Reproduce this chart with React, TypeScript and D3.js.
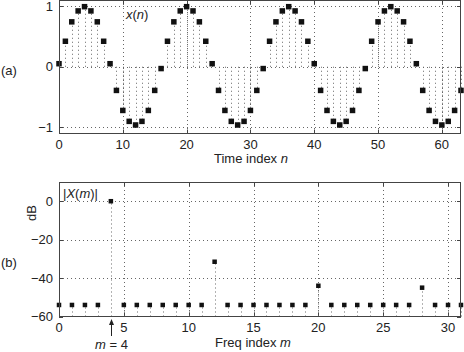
import React, { Component } from "react";
import * as d3 from "d3";

// x(n), n = 0..63
const signal = [
  0.05, 0.42, 0.74, 0.92, 0.99, 0.92, 0.74, 0.42,
  0.05, -0.39, -0.72, -0.9, -0.96, -0.9, -0.72, -0.39,
  -0.03, 0.42, 0.74, 0.92, 0.99, 0.92, 0.74, 0.42,
  0.05, -0.39, -0.72, -0.9, -0.96, -0.9, -0.72, -0.39,
  -0.03, 0.42, 0.74, 0.92, 0.99, 0.92, 0.74, 0.42,
  0.05, -0.39, -0.72, -0.9, -0.96, -0.9, -0.72, -0.39,
  -0.03, 0.42, 0.74, 0.92, 0.99, 0.92, 0.74, 0.42,
  0.05, -0.39, -0.72, -0.9, -0.96, -0.9, -0.72, -0.39,
];
// |X(m)| in dB, m = 0..31
const spectrum = [
  -54, -54, -54, -54, 0, -54, -54, -54,
  -54, -54, -54, -54, -31.5, -54, -54, -54,
  -54, -54, -54, -54, -44, -54, -54, -54,
  -54, -54, -54, -54, -45, -54, -54, -54,
];
const timeTicks = [0, 10, 20, 30, 40, 50, 60];
const ampTicks = [-1, 0, 1];
const freqTicks = [0, 5, 10, 15, 20, 25, 30];
const dbTicks = [-60, -40, -20, 0];
const peakBin = 4;

const FONT = "'Liberation Sans', Arial, Helvetica, sans-serif";
const INK = "#222";

export default class App extends Component {
  chartRef: any;

  componentDidMount() {
    const svg = d3.select(this.chartRef);
    svg.selectAll("*").remove();

    const left = 59;
    const right = 461;

    // 画一个面板：网格、刻度
    const panel = (
      x: any,
      y: any,
      xTicks: number[],
      yTicks: number[],
      xGrid: number[],
      yGrid: number[]
    ) => {
      const [y0, y1] = [y.range()[0], y.range()[1]];
      const g = svg.append("g");
      g.selectAll(".vg")
        .data(xGrid)
        .enter()
        .append("line")
        .attr("x1", (d) => Math.round(x(d)) + 0.5)
        .attr("x2", (d) => Math.round(x(d)) + 0.5)
        .attr("y1", y1)
        .attr("y2", y0)
        .attr("stroke", "#666")
        .attr("stroke-dasharray", "1,3");
      g.selectAll(".hg")
        .data(yGrid)
        .enter()
        .append("line")
        .attr("x1", left)
        .attr("x2", right)
        .attr("y1", (d) => Math.round(y(d)) + 0.5)
        .attr("y2", (d) => Math.round(y(d)) + 0.5)
        .attr("stroke", "#666")
        .attr("stroke-dasharray", "1,3");
      // 刻度线（四边向内）
      xTicks.forEach((t) => {
        const px = Math.round(x(t)) + 0.5;
        g.append("line").attr("x1", px).attr("x2", px).attr("y1", y0).attr("y2", y0 - 4).attr("stroke", "#444");
        g.append("line").attr("x1", px).attr("x2", px).attr("y1", y1).attr("y2", y1 + 4).attr("stroke", "#444");
      });
      yTicks.forEach((t) => {
        const py = Math.round(y(t)) + 0.5;
        g.append("line").attr("x1", left).attr("x2", left + 4).attr("y1", py).attr("y2", py).attr("stroke", "#444");
        g.append("line").attr("x1", right).attr("x2", right - 4).attr("y1", py).attr("y2", py).attr("stroke", "#444");
      });
      // 刻度文字
      g.selectAll(".xt")
        .data(xTicks)
        .enter()
        .append("text")
        .attr("x", (d) => x(d))
        .attr("y", y0 + 15)
        .attr("text-anchor", "middle")
        .attr("font-size", 13)
        .attr("font-family", FONT)
        .attr("fill", INK)
        .text((d) => String(d));
      g.selectAll(".yt")
        .data(yTicks)
        .enter()
        .append("text")
        .attr("x", 53)
        .attr("y", (d) => y(d) + 4.5)
        .attr("text-anchor", "end")
        .attr("font-size", 13)
        .attr("font-family", FONT)
        .attr("fill", INK)
        .text((d) => (d < 0 ? "\u2212" + Math.abs(d) : String(d)));
      return g;
    };

    // (a) 时域
    const xa = d3.scaleLinear().domain([0, 63]).range([left, right]);
    const ya = d3.scaleLinear().domain([-1.1, 1.1]).range([133.5, 0]);
    const ga = panel(xa, ya, timeTicks, ampTicks, timeTicks.slice(1), ampTicks);

    ga.selectAll(".stem")
      .data(signal)
      .enter()
      .append("line")
      .attr("x1", (d, i) => Math.round(xa(i)) + 0.5)
      .attr("x2", (d, i) => Math.round(xa(i)) + 0.5)
      .attr("y1", ya(0))
      .attr("y2", (d) => ya(d))
      .attr("stroke", "#666")
      .attr("stroke-dasharray", "1,3");
    ga.selectAll(".pt")
      .data(signal)
      .enter()
      .append("rect")
      .attr("x", (d, i) => xa(i) - 2.75)
      .attr("y", (d) => ya(d) - 2.75)
      .attr("width", 5.5)
      .attr("height", 5.5)
      .attr("fill", "#111");
    ga.append("rect")
      .attr("x", left + 0.5)
      .attr("y", 0.5)
      .attr("width", right - left - 1)
      .attr("height", 133)
      .attr("fill", "none")
      .attr("stroke", "#444");

    // (b) 频域
    const xb = d3.scaleLinear().domain([0, 31]).range([left, right]);
    const yb = d3.scaleLinear().domain([-60, 10]).range([316.5, 182]);
    const gb = panel(xb, yb, freqTicks, dbTicks, freqTicks.slice(1), dbTicks.slice(1));

    gb.selectAll(".stem")
      .data(spectrum)
      .enter()
      .append("line")
      .attr("x1", (d, i) => Math.round(xb(i)) + 0.5)
      .attr("x2", (d, i) => Math.round(xb(i)) + 0.5)
      .attr("y1", yb(-60))
      .attr("y2", (d) => yb(d))
      .attr("stroke", "#666")
      .attr("stroke-dasharray", "1,3");
    gb.selectAll(".pt")
      .data(spectrum)
      .enter()
      .append("rect")
      .attr("x", (d, i) => xb(i) - 2.25)
      .attr("y", (d) => yb(d) - 2.25)
      .attr("width", 4.5)
      .attr("height", 4.5)
      .attr("fill", "#111");
    gb.append("rect")
      .attr("x", left + 0.5)
      .attr("y", 182.5)
      .attr("width", right - left - 1)
      .attr("height", 134)
      .attr("fill", "none")
      .attr("stroke", "#444");

    // 文字标注
    const label = (x: number, y: number, size = 13, anchor = "start") =>
      svg
        .append("text")
        .attr("x", x)
        .attr("y", y)
        .attr("font-size", size)
        .attr("font-family", FONT)
        .attr("fill", INK)
        .attr("text-anchor", anchor);

    label(1, 75).text("(a)");
    label(1, 267).text("(b)");

    const xn = label(126, 19);
    xn.append("tspan").attr("font-style", "italic").text("x");
    xn.append("tspan").text("(");
    xn.append("tspan").attr("font-style", "italic").text("n");
    xn.append("tspan").text(")");

    const xm = label(63, 198);
    xm.append("tspan").text("|");
    xm.append("tspan").attr("font-style", "italic").text("X");
    xm.append("tspan").text("(");
    xm.append("tspan").attr("font-style", "italic").text("m");
    xm.append("tspan").text(")|");

    const tl = label(251, 163, 13, "middle");
    tl.append("tspan").text("Time index ");
    tl.append("tspan").attr("font-style", "italic").text("n");

    const fl = label(253, 347, 13, "middle");
    fl.append("tspan").text("Freq index ");
    fl.append("tspan").attr("font-style", "italic").text("m");

    svg
      .append("text")
      .attr("transform", "translate(36,213) rotate(-90)")
      .attr("text-anchor", "middle")
      .attr("font-size", 13)
      .attr("font-family", FONT)
      .attr("fill", INK)
      .text("dB");

    // m = 4 箭头
    const ax = Math.round(xb(peakBin)) + 0.5;
    svg.append("line").attr("x1", ax).attr("x2", ax).attr("y1", 336).attr("y2", 323).attr("stroke", INK);
    svg
      .append("path")
      .attr("d", `M${ax},319 L${ax - 2.5},325 L${ax + 2.5},325 Z`)
      .attr("fill", INK);
    const ml = label(ax, 349, 13, "middle");
    ml.append("tspan").attr("font-style", "italic").text("m");
    ml.append("tspan").text(" = " + peakBin);
  }

  render() {
    return (
      <div style={{ position: "absolute", left: 0, top: 0 }}>
        <svg
          ref={(r) => (this.chartRef = r)}
          width={464}
          height={352}
          style={{ display: "block", background: "#fff" }}
        ></svg>
      </div>
    );
  }
}
